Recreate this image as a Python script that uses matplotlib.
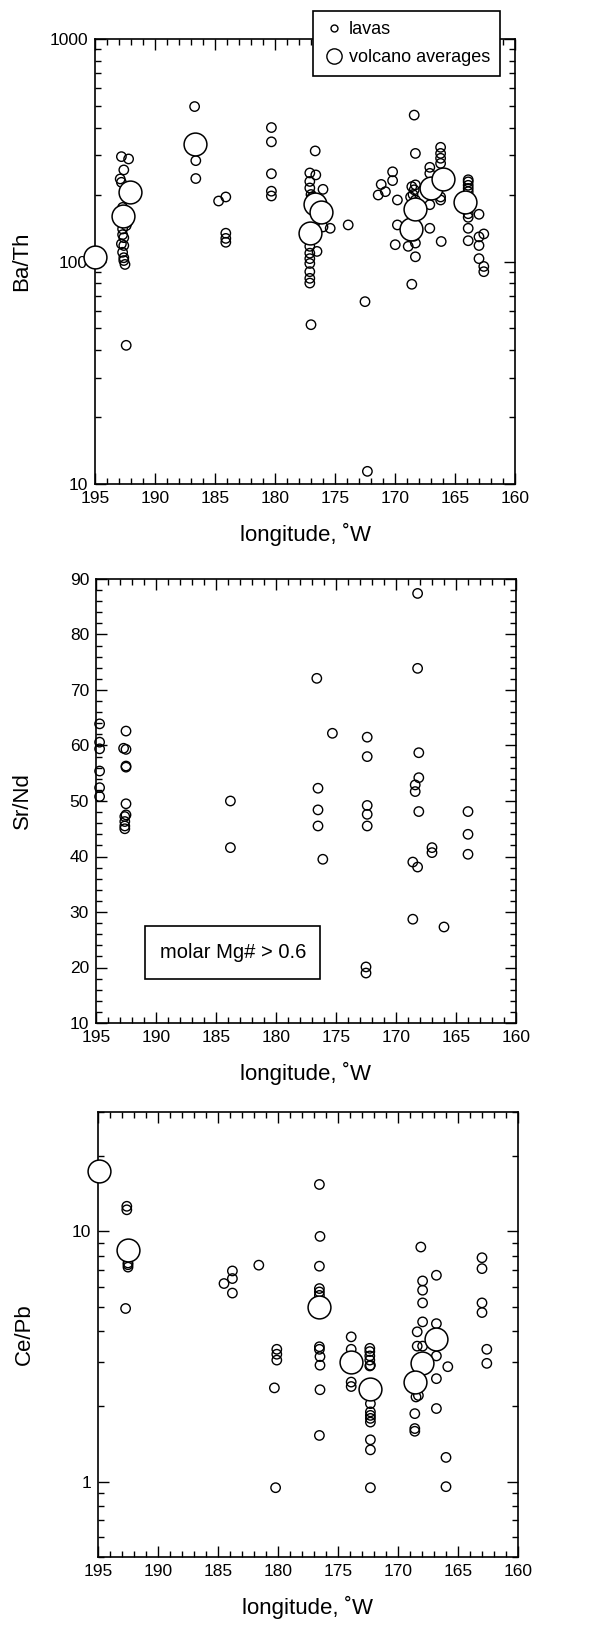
import matplotlib
matplotlib.use("Agg")
import matplotlib.pyplot as plt
from matplotlib.lines import Line2D
from matplotlib.patches import Rectangle
from matplotlib.ticker import MultipleLocator, LogLocator, NullFormatter, FixedLocator

plt.rcParams['font.family'] = ['Liberation Sans', 'DejaVu Sans']

# ---------------- data ----------------
# Panel 1: Ba/Th
bath_lava_lon = [192.8, 192.2, 192.6, 192.9, 192.8, 192.7, 192.5, 192.3, 192.4, 192.7, 192.7, 192.6,
                 192.8, 192.6, 192.7, 192.6, 192.6, 192.5, 192.4,
                 186.7, 186.6, 186.6,
                 184.7, 184.1, 184.1, 184.1, 184.1,
                 180.3, 180.3, 180.3, 180.3, 180.3,
                 176.65, 177.1, 176.6, 177.1, 176.0, 177.1, 177.0, 175.4, 176.0, 176.5, 177.1, 177.1,
                 177.1, 177.1, 177.1, 177.1, 177.1, 177.0, 176.3, 176.9, 173.9,
                 172.5, 172.3,
                 171.4, 171.15, 170.8, 170.2, 170.2, 169.8, 169.98, 169.8,
                 168.4, 168.3, 168.6, 168.3, 168.9, 168.3, 168.6, 168.3, 168.4, 168.7, 168.3, 168.5,
                 168.5, 168.4,
                 167.1, 167.1, 167.1, 167.1,
                 166.2, 166.2, 166.2, 166.2, 166.2, 166.2, 166.15,
                 163.9, 163.9, 163.9, 163.9, 163.9, 163.9, 163.9, 163.9, 163.9,
                 163.0, 163.0, 163.0, 163.0, 162.6, 162.6, 162.6]
bath_lava_val = [296, 289, 258, 235, 227, 175, 165, 150, 145, 140, 132, 128,
                 120, 118, 110, 104, 101, 97, 42,
                 497, 284, 236,
                 187, 195, 134, 127, 122,
                 400, 345, 248, 207, 197,
                 314, 250, 245, 229, 211, 214, 200, 141, 143, 111, 117, 109,
                 103, 98, 90, 84, 80, 52, 190, 195, 146,
                 66, 11.4,
                 199, 222, 206, 253, 231, 189, 119, 146,
                 455, 306, 79, 105, 117, 121, 217, 221, 210, 195, 189, 200,
                 160, 130,
                 265, 249, 180, 141,
                 326, 306, 291, 276, 195, 189, 123,
                 233, 228, 220, 213, 206, 164, 158, 141, 124,
                 163, 129, 118, 103, 133, 95, 90]
bath_avg_lon = [195.0, 192.1, 192.7, 186.7, 176.7, 176.2, 177.1, 168.65, 168.3, 167.0, 166.0, 164.2]
bath_avg_val = [105, 206, 160, 337, 181, 167, 135, 140, 172, 215, 234, 185]

# Panel 2: Sr/Nd (molar Mg# > 0.6)
srnd_lon = [194.7, 194.7, 194.7, 194.7, 194.7, 194.7,
            192.5, 192.7, 192.5, 192.5, 192.5, 192.5, 192.5, 192.6, 192.6, 192.6, 192.6,
            183.8, 183.8,
            176.6, 176.5, 176.5, 176.5, 175.3, 176.1,
            172.4, 172.4, 172.4, 172.4, 172.4, 172.5, 172.5,
            168.2, 168.2, 168.1, 168.1, 168.4, 168.4, 168.1, 168.6, 168.2, 168.6,
            167.0, 167.0, 166.0, 164.0, 164.0, 164.0]
srnd_val = [63.9, 60.6, 59.4, 55.4, 52.4, 50.8,
            62.6, 59.5, 59.3, 56.3, 56.1, 49.5, 47.5, 47.2, 46.3, 45.5, 45.0,
            50.0, 41.6,
            72.1, 52.3, 48.4, 45.5, 62.2, 39.5,
            61.5, 58.0, 49.2, 47.6, 45.5, 20.1, 19.0,
            87.4, 73.9, 58.7, 54.2, 52.9, 51.7, 48.1, 39.0, 38.1, 28.7,
            41.6, 40.7, 27.3, 48.1, 44.0, 40.4]

# Panel 3: Ce/Pb
cepb_lava_lon = [192.6, 192.6, 192.5, 192.5, 192.5, 192.7,
                 184.5, 183.8, 183.8, 183.8, 181.6,
                 180.1, 180.1, 180.1, 180.3, 180.2,
                 176.55, 176.5, 176.55, 176.55, 176.55, 176.55, 176.55, 176.55, 176.5, 176.5, 176.5, 176.55,
                 173.9, 173.9, 173.9, 173.9,
                 172.35, 172.35, 172.35, 172.35, 172.35, 172.3, 172.3, 172.3, 172.3, 172.3, 172.3, 172.3, 172.3, 172.3,
                 168.1, 167.95, 167.95, 167.95, 167.95, 168.4, 168.4, 167.95, 168.5, 168.3, 168.6, 168.6, 168.6,
                 166.8, 166.8, 166.8, 166.8, 166.8,
                 165.85, 166.0, 166.0,
                 163.0, 163.0, 163.0, 163.0, 162.6, 162.6]
cepb_lava_val = [12.6, 12.2, 7.48, 7.36, 7.2, 4.92,
                 6.19, 6.95, 6.48, 5.67, 7.33,
                 3.38, 3.23, 3.06, 2.37, 0.946,
                 15.4, 9.55, 7.26, 5.91, 5.73, 5.55, 3.46, 3.38, 3.16, 2.92, 2.33, 1.53,
                 3.79, 3.38, 2.50, 2.40,
                 3.41, 3.31, 3.18, 3.06, 2.90, 2.92, 2.05, 1.90, 1.84, 1.79, 1.73, 1.47, 1.34, 0.946,
                 8.66, 6.34, 5.82, 5.18, 4.35, 3.97, 3.48, 3.48, 2.18, 2.21, 1.87, 1.63, 1.59,
                 6.68, 4.28, 3.18, 2.58, 1.96,
                 2.88, 1.25, 0.955,
                 7.85, 7.1, 5.18, 4.74, 3.38, 2.97]
cepb_avg_lon = [194.9, 192.5, 176.55, 173.9, 172.3, 168.0, 168.6, 166.8]
cepb_avg_val = [17.4, 8.45, 4.97, 3.01, 2.35, 2.98, 2.50, 3.70]

x_ticks = [195, 190, 185, 180, 175, 170, 165, 160]
xlabel = "longitude, ˚W"

# ---------------- figure ----------------
fig = plt.figure(figsize=(5.96, 16.25), dpi=100)
W, H = 596.0, 1625.0

def make_ax(left, top, right, bottom):
    return fig.add_axes([left / W, 1 - bottom / H, (right - left) / W, (bottom - top) / H])

ax1 = make_ax(95, 39, 515, 484)
ax2 = make_ax(96, 579, 516, 1023)
ax3 = make_ax(98, 1112, 518, 1557)

SMALL = 46
BIG = 270
LABEL_FS = 16
TICK_FS = 12.5
YLAB_X = -0.15

def style_x(ax):
    ax.set_xlim(195, 160)
    ax.xaxis.set_major_locator(FixedLocator(x_ticks))
    ax.xaxis.set_minor_locator(MultipleLocator(1))
    ax.set_xlabel(xlabel, fontsize=LABEL_FS, labelpad=12)
    ax.tick_params(axis='both', which='both', direction='in', top=True, right=True,
                   labelsize=TICK_FS, width=1.0)
    ax.tick_params(axis='both', which='major', length=8, pad=5)
    ax.tick_params(axis='both', which='minor', length=4)
    for s in ax.spines.values():
        s.set_linewidth(1.2)

# Panel 1
ax1.scatter(bath_lava_lon, bath_lava_val, s=SMALL, facecolors='none', edgecolors='black',
            linewidths=1.0, zorder=3)
ax1.scatter(bath_avg_lon, bath_avg_val, s=BIG, facecolors='white', edgecolors='black',
            linewidths=1.1, zorder=4, clip_on=False)
ax1.set_yscale('log')
ax1.set_ylim(10, 1000)
ax1.yaxis.set_minor_locator(LogLocator(base=10, subs=range(2, 10), numticks=20))
ax1.yaxis.set_minor_formatter(NullFormatter())
ax1.set_yticks([10, 100, 1000])
ax1.set_yticklabels(['10', '100', '1000'])
ax1.set_ylabel("Ba/Th", fontsize=LABEL_FS)
ax1.yaxis.set_label_coords(YLAB_X, 0.5)
style_x(ax1)

handles = [Line2D([], [], ls='none', marker='o', ms=5, mfc='none', mec='black', mew=1.0),
           Line2D([], [], ls='none', marker='o', ms=11, mfc='none', mec='black', mew=1.0)]
leg = ax1.legend(handles, ['lavas', 'volcano averages'], loc='upper right',
                 bbox_to_anchor=(0.965, 1.062), fontsize=13, frameon=True, fancybox=False,
                 framealpha=1, edgecolor='black', handletextpad=0.25, handlelength=1.2,
                 borderpad=0.55, labelspacing=0.6, borderaxespad=0)
leg.get_frame().set_linewidth(1.2)
leg.set_zorder(10)

# Panel 2
ax2.scatter(srnd_lon, srnd_val, s=SMALL, facecolors='none', edgecolors='black',
            linewidths=1.0, zorder=3, clip_on=False)
ax2.set_ylim(10, 90)
ax2.yaxis.set_major_locator(MultipleLocator(10))
ax2.yaxis.set_minor_locator(MultipleLocator(2))
ax2.set_ylabel("Sr/Nd", fontsize=LABEL_FS)
ax2.yaxis.set_label_coords(YLAB_X, 0.5)
style_x(ax2)
ax2.add_patch(Rectangle((190.9, 18.0), 176.3 - 190.9, 27.4 - 18.0, facecolor='white',
                        edgecolor='black', linewidth=1.2, zorder=5))
ax2.text(183.6, 22.7, "molar Mg# > 0.6", ha='center', va='center', fontsize=14.5, zorder=6)

# Panel 3
ax3.scatter(cepb_lava_lon, cepb_lava_val, s=SMALL, facecolors='none', edgecolors='black',
            linewidths=1.0, zorder=3)
ax3.scatter(cepb_avg_lon, cepb_avg_val, s=BIG, facecolors='white', edgecolors='black',
            linewidths=1.1, zorder=4, clip_on=False)
ax3.set_yscale('log')
ax3.set_ylim(0.5, 30)
ax3.yaxis.set_minor_locator(LogLocator(base=10, subs=range(2, 10), numticks=20))
ax3.yaxis.set_minor_formatter(NullFormatter())
ax3.set_yticks([1, 10])
ax3.set_yticklabels(['1', '10'])
ax3.set_ylabel("Ce/Pb", fontsize=LABEL_FS)
ax3.yaxis.set_label_coords(YLAB_X, 0.5)
style_x(ax3)

fig.savefig("out.png", dpi=100)
